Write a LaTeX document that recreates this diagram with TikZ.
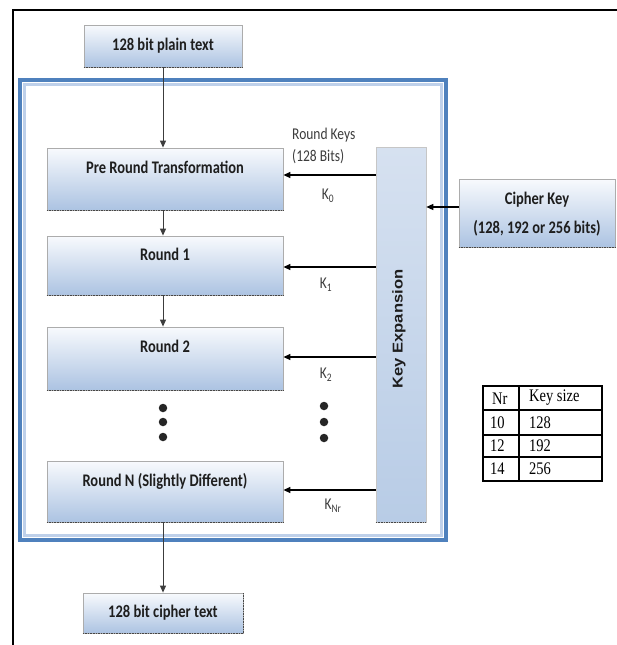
\documentclass[tikz,border=0pt]{standalone}
\usepackage{graphicx}
\usepackage{fontspec}
\setmainfont{Carlito}
\newfontfamily\arialfont{Liberation Sans}
\newfontfamily\timesfont{Liberation Serif}
\usetikzlibrary{arrows.meta,calc}

\definecolor{frameblue}{RGB}{79,129,189}
\definecolor{framelight}{RGB}{190,208,234}
\definecolor{boxtop}{RGB}{248,250,253}
\definecolor{boxbot}{RGB}{172,195,226}
\definecolor{kexptop}{RGB}{214,225,240}
\definecolor{kexpbot}{RGB}{184,204,230}
\definecolor{inkdark}{RGB}{30,30,30}
\definecolor{labgray}{RGB}{60,60,60}

% narrow, tall lettering
\newcommand\tallset[1]{\scalebox{1}[1.22]{#1}}

\tikzset{
  stagebox/.style={draw=gray!65, line width=0.8pt, top color=boxtop, bottom color=boxbot,
    minimum width=#1, inner sep=0pt},
  boldlbl/.style={font=\fontsize{14.5}{17}\selectfont\bfseries, text=inkdark, inner sep=0pt},
  keylbl/.style={font=\fontsize{13.5}{15}\selectfont, text=labgray, inner sep=0pt},
  flowarrow/.style={-{Triangle[length=7pt,width=6pt]}, line width=1pt, draw=labgray},
  keyarrow/.style={-{Triangle[length=7pt,width=6pt]}, line width=1.3pt, draw=black},
  shadowedge/.style={densely dotted, line width=1.6pt, draw=gray!55!black},
  dotmark/.style={circle, fill=black!85, minimum width=7pt, minimum height=8.5pt, inner sep=0pt},
  tbltext/.style={font=\fontsize{14.5}{16}\selectfont\timesfont, inner sep=0pt, anchor=west},
}

\begin{document}
\begin{tikzpicture}[x=1pt,y=-1pt]
  \useasboundingbox (0,0) rectangle (617,645);

  % page edge
  \draw[line width=1.5pt, black] (13,645) -- (13,10) -- (617,10);

  % frame around the rounds
  \draw[line width=4pt, frameblue] (20,80) rectangle (446,540);
  \draw[line width=2.5pt, framelight] (24.5,84.5) rectangle (441.5,535.5);

  % input and output
  \node[stagebox=158pt, minimum height=42pt] (plain) at (163,46) {};
  \draw[shadowedge] (plain.south west) -- (plain.south east);
  \node[boldlbl] (plainT) at (plain.center) {\tallset{128 bit plain text}};

  \node[stagebox=160pt, minimum height=40pt] (ctext) at (163,613) {};
  \draw[shadowedge] (ctext.south west) -- (ctext.south east) -- (ctext.north east);
  \node[boldlbl] (ctextT) at (ctext.center) {\tallset{128 bit cipher text}};

  % round stages
  \node[stagebox=236pt, minimum height=62pt] (pre) at (165,179) {};
  \node[stagebox=236pt, minimum height=59pt] (r1) at (165,265.5) {};
  \node[stagebox=236pt, minimum height=63pt] (r2) at (165,358.5) {};
  \node[stagebox=236pt, minimum height=61pt] (rN) at (165,491.5) {};
  \foreach \b in {pre,r1,r2,rN}
    \draw[shadowedge] (\b.south west) -- (\b.south east);
  \node[boldlbl] (preT) at ([yshift=-20pt]pre.north) {\tallset{Pre Round Transformation}};
  \node[boldlbl] (r1T) at ([yshift=-19pt]r1.north) {\tallset{Round 1}};
  \node[boldlbl] (r2T) at ([yshift=-20pt]r2.north) {\tallset{Round 2}};
  \node[boldlbl] (rNT) at ([yshift=-21pt]rN.north) {\tallset{Round N (Slightly Different)}};

  % key expansion column
  \node[draw=gray!45, line width=0.6pt, top color=kexptop, bottom color=kexpbot,
        minimum width=50pt, minimum height=375pt, inner sep=0pt] (kexp) at (401,334.5) {};
  \draw[shadowedge] (kexp.south west) -- (kexp.south east);
  \node[rotate=90, font=\fontsize{15.5}{17}\selectfont\arialfont\bfseries, text=inkdark, inner sep=0pt]
    (kexpT) at (399,329) {\scalebox{1.07}[0.92]{Key Expansion}};

  % cipher key
  \node[stagebox=156pt, minimum height=68pt] (ckey) at (537,213) {};
  \draw[shadowedge] (ckey.south west) -- (ckey.south east);
  \node[boldlbl] (ckeyT1) at (537,200) {\tallset{Cipher Key}};
  \node[boldlbl] (ckeyT2) at (537,228) {\tallset{(128, 192 or 256 bits)}};

  % data path
  \draw[flowarrow] (plain.south) -- (plain.south |- pre.north);
  \draw[flowarrow] (pre.south -| plain.south) -- (r1.north -| plain.south);
  \draw[flowarrow] (r1.south -| plain.south) -- (r2.north -| plain.south);
  \draw[flowarrow] (rN.south -| plain.south) -- (ctext.north);

  % continuation dots
  \node[dotmark] (d1) at (163,408) {};
  \node[dotmark] (d2) at (163,422) {};
  \node[dotmark] (d3) at (163,437) {};
  \node[dotmark] (e1) at (324,406) {};
  \node[dotmark] (e2) at (324,422) {};
  \node[dotmark] (e3) at (324,438) {};

  % round keys
  \draw[keyarrow] ([yshift=4pt]pre.east -| kexp.west) -- ([yshift=4pt]pre.east);
  \draw[keyarrow] ([yshift=-1.5pt]r1.east -| kexp.west) -- ([yshift=-1.5pt]r1.east);
  \draw[keyarrow] ([yshift=1.5pt]r2.east -| kexp.west) -- ([yshift=1.5pt]r2.east);
  \draw[keyarrow] ([yshift=1.5pt]rN.east -| kexp.west) -- ([yshift=1.5pt]rN.east);
  \draw[keyarrow] ([yshift=6pt]ckey.west) -- ([yshift=6pt]ckey.west -| kexp.east);

  \node[keylbl, anchor=west] (rk1) at (292,135) {\tallset{Round Keys}};
  \node[keylbl, anchor=west] (rk2) at (292,157) {\tallset{(128 Bits)}};
  \node[keylbl] (k0) at (328,196) {\tallset{K\textsubscript{0}}};
  \node[keylbl] (k1) at (326,285) {\tallset{K\textsubscript{1}}};
  \node[keylbl] (k2) at (326,375) {\tallset{K\textsubscript{2}}};
  \node[keylbl] (kn) at (333,506) {\tallset{K\textsubscript{Nr}}};

  % round count table
  \draw[line width=1.4pt] (483,386) rectangle (602,481);
  \draw[line width=1.2pt] (519,386) -- (519,481)
                          (483,410) -- (602,410)
                          (483,435) -- (602,435)
                          (483,457) -- (602,457);
  \node[tbltext] (h1) at (492,399) {\tallset{Nr}};
  \node[tbltext] (h2) at (529,398) {\tallset{Key size}};
  \node[tbltext] (a1) at (490,423) {\tallset{10}};
  \node[tbltext] (b1) at (529,423) {\tallset{128}};
  \node[tbltext] (a2) at (490,446) {\tallset{12}};
  \node[tbltext] (b2) at (529,446) {\tallset{192}};
  \node[tbltext] (a3) at (490,469) {\tallset{14}};
  \node[tbltext] (b3) at (529,469) {\tallset{256}};
\end{tikzpicture}
\end{document}
